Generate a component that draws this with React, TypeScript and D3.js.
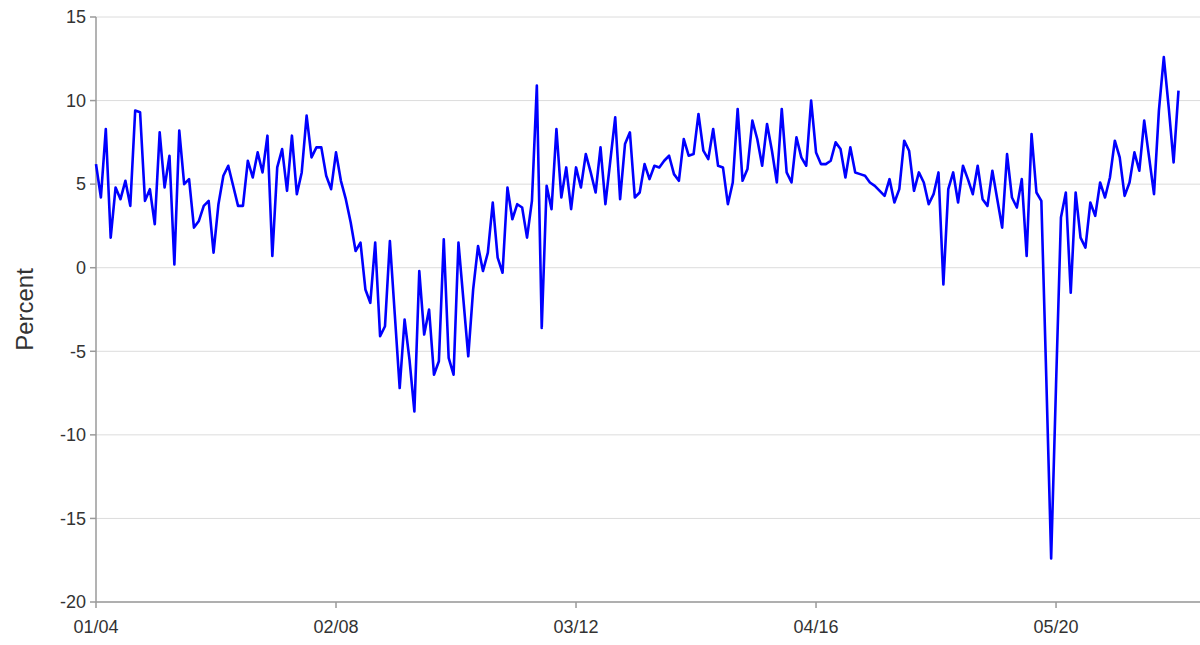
import React from "react";
import * as d3 from "d3";

// Monthly series, Jan 2004 – Jun 2022 (percent)
const startYear = 2004;
const startMonth = 0; // January
const values: number[] = [
  6.2, 4.2, 8.3, 1.8, 4.8, 4.1, 5.2, 3.7, 9.4, 9.3, 4.0, 4.7, 2.6, 8.1, 4.8, 6.7, 0.2, 8.2, 5.0, 5.3, 2.4, 2.8, 3.7, 4.0, 0.9, 3.8, 5.5, 6.1,
  4.9, 3.7, 3.7, 6.4, 5.4, 6.9, 5.7, 7.9, 0.7, 6.0, 7.1, 4.6, 7.9, 4.4, 5.7, 9.1, 6.6, 7.2, 7.2, 5.5, 4.7, 6.9, 5.2, 4.1, 2.7, 1.0, 1.5,
  -1.3, -2.1, 1.5, -4.1, -3.5, 1.6, -2.8, -7.2, -3.1, -5.5, -8.6, -0.2, -4.0, -2.5, -6.4, -5.6, 1.7, -5.4, -6.4, 1.5, -1.9, -5.3, -1.3, 1.3, -0.2, 0.9, 3.9,
  0.6, -0.3, 4.8, 2.9, 3.8, 3.6, 1.8, 4.0, 10.9, -3.6, 4.9, 3.5, 8.3, 4.2, 6.0, 3.5, 6.0, 4.8, 6.8, 5.7, 4.5, 7.2, 3.8, 6.4, 9.0, 4.1, 7.4, 8.1,
  4.2, 4.5, 6.2, 5.3, 6.1, 6.0, 6.4, 6.7, 5.6, 5.2, 7.7, 6.7, 6.8, 9.2, 7.0, 6.5, 8.3, 6.1, 6.0, 3.8, 5.1, 9.5, 5.2, 5.9, 8.8, 7.7, 6.1,
  8.6, 7.0, 5.1, 9.5, 5.7, 5.1, 7.8, 6.6, 6.1, 10.0, 6.9, 6.2, 6.2, 6.4, 7.5, 7.1, 5.4, 7.2, 5.7, 5.6, 5.5, 5.1, 4.9, 4.6, 4.3, 5.3, 3.9,
  4.7, 7.6, 7.0, 4.6, 5.7, 5.1, 3.8, 4.4, 5.7, -1.0, 4.7, 5.7, 3.9, 6.1, 5.3, 4.4, 6.1, 4.1, 3.7, 5.8, 4.1, 2.4, 6.8, 4.2, 3.6, 5.3, 0.7, 8.0,
  4.5, 4.0, -6.5, -17.4, -7.0, 3.0, 4.5, -1.5, 4.5, 1.8, 1.2, 3.9, 3.1, 5.1, 4.2, 5.4, 7.6, 6.6, 4.3, 5.1, 6.9, 5.8, 8.8, 6.6, 4.4, 9.4, 12.6, 9.6, 6.3, 10.6,
];

const xTickLabels = ["01/04", "02/08", "03/12", "04/16", "05/20"];
const yTicks = [15, 10, 5, 0, -5, -10, -15, -20];
const yTitle = "Percent";

const months = values.map((_, i) => new Date(startYear, startMonth + i, 1));
const fmt = d3.timeFormat("%m/%y");

const W = 1200;
const H = 645;
const M = { left: 96, right: 1178.5, top: 17, bottom: 602 };

export default function App() {
  const x = d3.scaleLinear().domain([0, values.length - 1]).range([M.left, M.right]);
  const y = d3.scaleLinear().domain([-20, 15]).range([M.bottom, M.top]);

  const line = d3
    .line<number>()
    .x((_, i) => x(i))
    .y((d) => y(d));

  const xTicks = xTickLabels.map((lab) => ({
    lab,
    idx: months.findIndex((m) => fmt(m) === lab),
  }));

  const font = "'Liberation Sans', Arial, Helvetica, sans-serif";
  const axisColor = "#9a9a9a";

  return (
    <svg
      width={W}
      height={H}
      style={{ position: "absolute", left: 0, top: 0, background: "#fff" }}
      fontFamily={font}
    >
      {/* gridlines */}
      {yTicks.map((t) => (
        <line key={"g" + t} x1={M.left} x2={W} y1={y(t)} y2={y(t)} stroke="#dcdcdc" strokeWidth={1} />
      ))}
      {/* y axis */}
      <line x1={M.left} x2={M.left} y1={M.top} y2={M.bottom} stroke={axisColor} strokeWidth={1.5} />
      {yTicks.map((t) => (
        <g key={"y" + t}>
          <line x1={M.left - 6} x2={M.left} y1={y(t)} y2={y(t)} stroke={axisColor} strokeWidth={1.5} />
          <text x={M.left - 10} y={y(t)} dy="0.35em" textAnchor="end" fontSize={18} fill="#333">
            {t}
          </text>
        </g>
      ))}
      {/* x axis */}
      <line x1={M.left} x2={W} y1={M.bottom} y2={M.bottom} stroke={axisColor} strokeWidth={1.5} />
      {xTicks.map((t) => (
        <g key={"x" + t.lab}>
          <line x1={x(t.idx)} x2={x(t.idx)} y1={M.bottom} y2={M.bottom + 6} stroke={axisColor} strokeWidth={1.5} />
          <text x={x(t.idx)} y={633} textAnchor="middle" fontSize={18} fill="#333">
            {t.lab}
          </text>
        </g>
      ))}
      {/* y title */}
      <text
        transform={`translate(33, ${(M.top + M.bottom) / 2}) rotate(-90)`}
        textAnchor="middle"
        fontSize={24}
        fill="#333"
      >
        {yTitle}
      </text>
      {/* series */}
      <path d={line(values) || ""} fill="none" stroke="#0000ff" strokeWidth={2.6} strokeLinejoin="round" />
    </svg>
  );
}
